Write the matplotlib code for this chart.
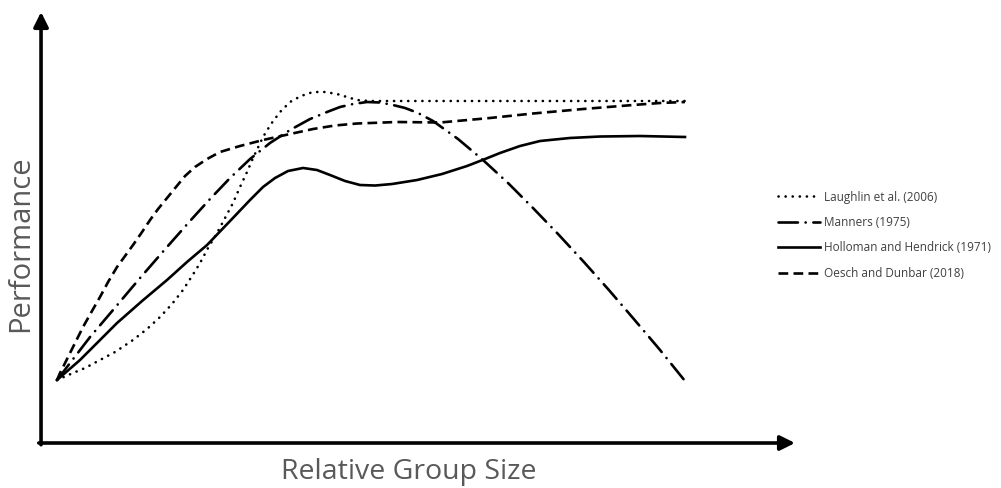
import matplotlib.pyplot as plt

plt.rcParams['lines.scale_dashes'] = False
plt.rcParams['font.family'] = ['Open Sans', 'DejaVu Sans']

# values (x = relative group size, y = performance, both 0-100)
laughlin_x = [2.12, 3.18, 4.24, 5.84, 7.82, 9.81, 12.20, 14.06, 15.78, 17.37, 18.83, 20.03, 21.09,
              22.15, 23.34, 24.40, 25.46, 26.39, 27.32, 28.12, 29.44, 30.50, 31.70, 33.02, 34.48,
              36.07, 37.67, 39.26, 40.58, 41.91, 43.63, 47.61, 85.41]
laughlin_y = [14.62, 15.43, 16.24, 17.40, 19.26, 21.11, 23.90, 26.45, 29.23, 32.25, 35.50, 38.75, 41.76,
              45.24, 48.72, 52.20, 55.68, 59.40, 62.88, 66.13, 71.00, 74.01, 76.80, 79.12, 80.51,
              81.44, 81.44, 80.97, 80.28, 79.58, 79.35, 79.35, 79.35]

manners_x = [2.12, 3.85, 6.50, 9.55, 13.13, 16.71, 19.76, 22.41, 25.07, 27.72, 30.37, 33.02, 35.68,
             37.93, 39.66, 41.38, 43.24, 44.96, 46.68, 48.28, 50.00, 51.99, 55.31, 58.62, 61.94,
             65.25, 68.57, 71.88, 75.20, 78.51, 82.10, 85.41]
manners_y = [14.62, 18.56, 24.59, 30.86, 38.28, 45.48, 51.51, 56.61, 61.48, 65.89, 69.61, 72.62, 75.17,
             76.80, 77.96, 78.65, 79.12, 79.00, 78.42, 77.73, 76.57, 74.71, 70.53, 65.66, 60.32,
             54.52, 48.49, 42.23, 35.73, 29.00, 21.58, 14.39]

holloman_x = [2.12, 5.17, 10.08, 13.40, 16.71, 19.36, 22.02, 25.07, 27.72, 29.44, 31.03, 32.76, 34.75,
              36.60, 38.33, 40.32, 42.31, 44.30, 46.55, 49.87, 53.18, 56.50, 58.89, 60.88, 63.53,
              66.18, 70.16, 74.14, 79.44, 85.41]
holloman_y = [14.62, 19.26, 27.84, 32.95, 37.82, 42.00, 45.94, 51.51, 56.38, 59.40, 61.48, 63.11, 63.81,
              63.34, 62.18, 60.79, 59.86, 59.74, 60.09, 61.02, 62.41, 64.27, 65.89, 67.29, 68.91,
              70.07, 70.77, 71.11, 71.23, 71.00]

oesch_x = [2.12, 2.52, 2.92, 4.24, 5.57, 6.76, 7.82, 8.89, 10.08, 11.14, 12.20, 13.40, 14.46, 15.52,
           16.71, 17.90, 19.10, 20.42, 22.02, 23.74, 26.39, 29.44, 33.02, 36.07, 38.99, 41.91,
           47.21, 52.92, 59.55, 65.25, 71.88, 78.51, 82.10, 85.41]
oesch_y = [14.62, 16.24, 17.63, 22.27, 26.91, 30.63, 33.87, 37.35, 40.84, 43.39, 45.94, 48.96, 51.74,
           54.29, 56.84, 59.40, 61.95, 64.04, 65.89, 67.52, 68.91, 70.30, 71.69, 72.85, 73.67, 74.13,
           74.48, 74.36, 75.41, 76.45, 77.49, 78.42, 78.89, 79.12]

labels = ["Laughlin et al. (2006)", "Manners (1975)",
          "Holloman and Hendrick (1971)", "Oesch and Dunbar (2018)"]

fig = plt.figure(figsize=(10.01, 4.88), dpi=100)
ax = fig.add_axes([0.041, 0.0922, 0.7532, 0.8832])
ax.set_xlim(0, 100)
ax.set_ylim(0, 100)
ax.axis('off')

lw = 1.9
ax.plot(laughlin_x, laughlin_y, color='black', lw=lw, dashes=(0.1, 5.0),
        dash_capstyle='round', label=labels[0])
ax.plot(manners_x, manners_y, color='black', lw=lw, dashes=(14, 5.5, 0.1, 5.5),
        dash_capstyle='round', label=labels[1])
ax.plot(holloman_x, holloman_y, color='black', lw=lw, label=labels[2])
ax.plot(oesch_x, oesch_y, color='black', lw=lw, dashes=(7, 3.8), label=labels[3])

# axes drawn as arrows
arrow = dict(arrowstyle='-|>', lw=2.6, color='black', mutation_scale=22, shrinkA=0, shrinkB=0)
ax.annotate('', xy=(0, 1.0), xytext=(0, -0.004), xycoords='axes fraction',
            textcoords='axes fraction', arrowprops=arrow, annotation_clip=False)
ax.annotate('', xy=(1.0, 0), xytext=(-0.003, 0), xycoords='axes fraction',
            textcoords='axes fraction', arrowprops=arrow, annotation_clip=False)

fig.text(0.021, 0.50, "Performance", rotation=90, ha='center', va='center',
         fontsize=21, color='#595959')
fig.text(0.408, 0.018, "Relative Group Size", ha='center', va='baseline',
         fontsize=20.5, color='#595959')

leg = fig.legend(loc='center left', bbox_to_anchor=(0.777, 0.518), frameon=False,
                 borderaxespad=0, borderpad=0,
                 fontsize=8.5, handlelength=3.6, handletextpad=0.3, labelspacing=1.05)
for t in leg.get_texts():
    t.set_color('#404040')

plt.savefig("out.png", dpi=100)
